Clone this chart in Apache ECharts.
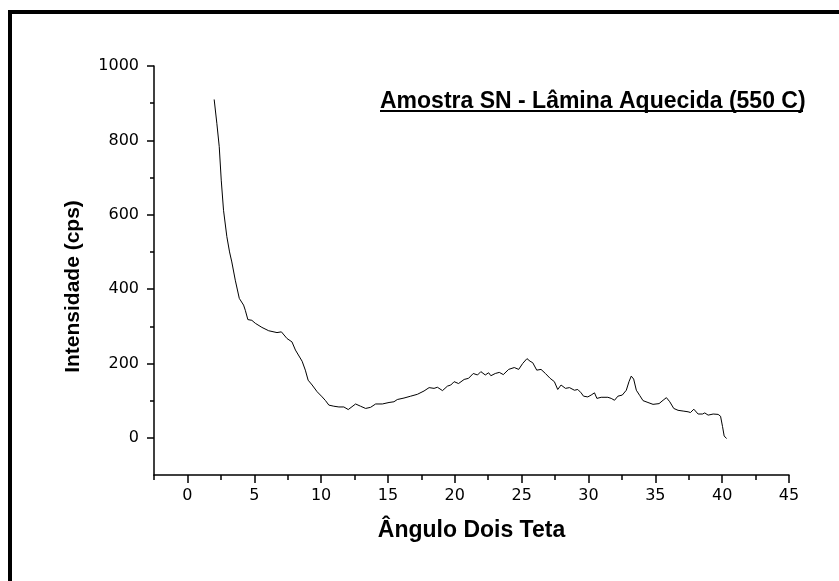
<!DOCTYPE html>
<html>
<head>
<meta charset="utf-8">
<script src="https://cdn.jsdelivr.net/npm/echarts@6/dist/echarts.min.js"></script>
<style>
  html, body { margin: 0; padding: 0; background: #fff; }
  #chart { width: 839px; height: 581px; }
</style>
</head>
<body>
<div id="chart"></div>
<script>
// 2-theta angle and intensity
const angle = [
  2.0, 2.2, 2.38, 2.53, 2.7, 2.95, 3.15, 3.32, 3.58, 3.88, 4.2, 4.33, 4.52, 4.82,
  5.08, 5.57, 6.08, 6.7, 7.03, 7.45, 7.82, 8.08, 8.58, 8.82, 9.03, 9.33, 9.7,
  10.08, 10.33, 10.58, 10.95, 11.33, 11.7, 12.03, 12.58, 12.95, 13.33, 13.7,
  14.08, 14.58, 15.08, 15.45, 15.7, 16.2, 16.7, 17.2, 17.7, 18.08, 18.45, 18.7,
  19.08, 19.45, 19.7, 19.95, 20.28, 20.7, 21.03, 21.38, 21.7, 21.95, 22.28,
  22.53, 22.7, 23.03, 23.33, 23.63, 24.03, 24.45, 24.78, 25.08, 25.4, 25.63,
  25.83, 26.13, 26.45, 26.78, 27.13, 27.45, 27.7, 27.95, 28.28, 28.58, 28.95,
  29.2, 29.45, 29.63, 29.95, 30.2, 30.45, 30.63, 30.95, 31.45, 31.7, 31.95,
  32.2, 32.53, 32.83, 33.03, 33.2, 33.38, 33.58, 33.83, 34.08, 34.45, 34.83,
  35.28, 35.58, 35.83, 36.08, 36.38, 36.7, 37.08, 37.45, 37.63, 37.88, 38.2,
  38.53, 38.7, 38.95, 39.33, 39.7, 39.88, 40.03, 40.15, 40.33
]
const intensity = [
  910, 846, 783, 693, 612, 541, 500, 473, 424, 375, 357, 343, 318, 316,
  308, 297, 288, 283, 285, 267, 258, 236, 206, 182, 155, 142, 124,
  110, 100, 88, 85, 83, 83, 76, 91, 85, 79, 82,
  91, 91, 95, 97, 103, 107, 112, 117, 126, 135, 133, 136,
  127, 139, 142, 151, 146, 157, 160, 173, 169, 178, 169,
  175, 167, 173, 176, 170, 184, 189, 184, 200, 213, 206,
  202, 182, 184, 173, 160, 151, 130, 142, 133, 135, 128,
  130, 121, 112, 110, 115, 121, 106, 109, 109, 106, 101,
  112, 115, 128, 151, 166, 158, 128, 114, 100, 95, 90,
  92, 101, 108, 97, 79, 74, 72, 70, 68, 77, 64,
  64, 67, 61, 64, 63, 58, 30, 5, -2
]
const xMajorTicks = [0, 5, 10, 15, 20, 25, 30, 35, 40, 45]
const xMinorTicks = [-2.5, 2.5, 7.5, 12.5, 17.5, 22.5, 27.5, 32.5, 37.5, 42.5]
const yMajorTicks = [0, 200, 400, 600, 800, 1000]
const yMinorTicks = [100, 300, 500, 700, 900]

const titleText = 'Amostra SN - Lâmina Aquecida (550 C)'
const xName = 'Ângulo Dois Teta'
const yName = 'Intensidade (cps)'

const chart = echarts.init(document.getElementById('chart'))

const baseX = {
  type: 'value',
  min: -2.5,
  max: 45,
  splitLine: { show: false },
  axisLine: { onZero: false, lineStyle: { color: '#000', width: 1.5 } }
}
const baseY = {
  type: 'value',
  min: -100,
  max: 1000,
  splitLine: { show: false },
  axisLine: { onZero: false, lineStyle: { color: '#000', width: 1.5 } }
}
const plain = v => String(v)

chart.setOption({
  animation: false,
  backgroundColor: '#fff',
  title: {
    text: titleText,
    left: 380,
    top: 90,
    padding: 0,
    textStyle: { fontFamily: 'Liberation Sans', fontWeight: 'bold', fontSize: 23, color: '#000' }
  },
  graphic: [
    // page frame
    { type: 'rect', shape: { x: 10, y: 12, width: 840, height: 580 },
      style: { fill: 'none', stroke: '#000', lineWidth: 4 }, silent: true },
    // title underline
    { type: 'line', shape: { x1: 380, y1: 111, x2: 803, y2: 111 },
      style: { stroke: '#000', lineWidth: 2 }, silent: true }
  ],
  grid: { left: 154, right: 50, top: 66, bottom: 106, containLabel: false },
  xAxis: [
    Object.assign({}, baseX, {
      name: xName,
      nameLocation: 'middle',
      nameGap: 44,
      nameTextStyle: { fontFamily: 'Liberation Sans', fontWeight: 'bold', fontSize: 23, color: '#000' },
      axisTick: { customValues: xMajorTicks, length: 8, lineStyle: { color: '#000', width: 1.5 } },
      axisLabel: { customValues: xMajorTicks, formatter: plain, margin: 13, color: '#000', fontFamily: 'DejaVu Sans', fontSize: 16 }
    }),
    Object.assign({}, baseX, {
      position: 'bottom',
      axisLine: { show: false, onZero: false },
      axisTick: { customValues: xMinorTicks, length: 5, lineStyle: { color: '#000', width: 1.5 } },
      axisLabel: { show: false }
    })
  ],
  yAxis: [
    Object.assign({}, baseY, {
      name: yName,
      nameLocation: 'middle',
      nameGap: 70,
      nameTextStyle: { fontFamily: 'Liberation Sans', fontWeight: 'bold', fontSize: 21, color: '#000', padding: [0, 32, 0, 0] },
      axisTick: { customValues: yMajorTicks, length: 7, lineStyle: { color: '#000', width: 1.5 } },
      axisLabel: { customValues: yMajorTicks, formatter: plain, margin: 15, color: '#000', fontFamily: 'DejaVu Sans', fontSize: 16 }
    }),
    Object.assign({}, baseY, {
      position: 'left',
      axisLine: { show: false, onZero: false },
      axisTick: { customValues: yMinorTicks, length: 4, lineStyle: { color: '#000', width: 1.5 } },
      axisLabel: { show: false }
    })
  ],
  series: [{
    type: 'line',
    data: angle.map((a, i) => [a, intensity[i]]),
    showSymbol: false,
    symbol: 'none',
    lineStyle: { color: '#000', width: 1 }
  }]
})
</script>
</body>
</html>
